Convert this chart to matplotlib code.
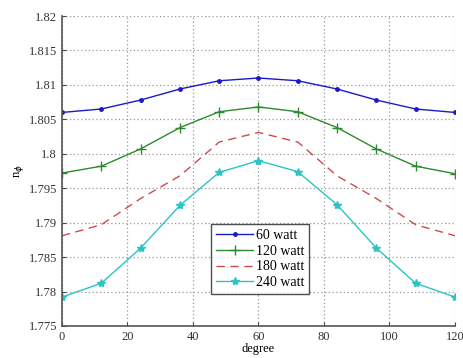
import numpy as np
import matplotlib.pyplot as plt
from matplotlib.ticker import FuncFormatter

# angle samples (degree)
degree = [0, 12, 24, 36, 48, 60, 72, 84, 96, 108, 120]

# refractive index per input power
n_60w = [1.8060, 1.8065, 1.8078, 1.8094, 1.8106, 1.8110, 1.8106, 1.8094, 1.8078, 1.8065, 1.8060]
n_120w = [1.7972, 1.7982, 1.8007, 1.8038, 1.8061, 1.8068, 1.8061, 1.8038, 1.8007, 1.7982, 1.7971]
n_180w = [1.7881, 1.7897, 1.7935, 1.7968, 1.8017, 1.8031, 1.8017, 1.7968, 1.7935, 1.7897, 1.7881]
n_240w = [1.7792, 1.7812, 1.7863, 1.7925, 1.7973, 1.7990, 1.7974, 1.7926, 1.7863, 1.7812, 1.7792]

labels = ['60 watt', '120 watt', '180 watt', '240 watt']
x_ticks = [0, 20, 40, 60, 80, 100, 120]
y_ticks = [1.775, 1.78, 1.785, 1.79, 1.795, 1.8, 1.805, 1.81, 1.815, 1.82]

plt.rcParams['font.family'] = ['Liberation Serif', 'DejaVu Serif']

fig = plt.figure(figsize=(4.64, 3.58), dpi=100)
ax = fig.add_axes([0.1336, 0.0894, 0.847, 0.8659])

ax.plot(degree, n_60w, color='#1a1ac8', marker='.', markersize=5, lw=1.0, label=labels[0])
ax.plot(degree, n_120w, color='#2e8a2e', marker='+', markersize=7, mew=1.0, lw=1.0, label=labels[1])
ax.plot(degree, n_180w, color='#cc4c4c', ls=(0, (6, 4)), lw=1.0, label=labels[2])
ax.plot(degree, n_240w, color='#2cc4c4', marker='*', markersize=6, lw=1.0, label=labels[3])

ax.set_xlim(0, 120)
ax.set_ylim(1.775, 1.82)
ax.set_xticks(x_ticks)
ax.set_yticks(y_ticks)
ax.yaxis.set_major_formatter(FuncFormatter(lambda v, p: f'{v:g}'))
ax.tick_params(direction='in', labelsize=9, length=3, colors='#444444', labelcolor='#333333')

for side in ['top', 'right']:
    ax.spines[side].set_visible(False)
for side in ['left', 'bottom']:
    ax.spines[side].set_color('#555555')
    ax.spines[side].set_linewidth(1.2)

ax.grid(True, ls=(0, (1, 2)), color='#999999', lw=0.9)

ax.set_xlabel('degree', fontsize=9, labelpad=0)
ax.set_ylabel(r'n$_\phi$', fontsize=9, labelpad=2)

leg = ax.legend(loc='lower left', bbox_to_anchor=(0.379, 0.103), fontsize=10,
                frameon=True, fancybox=False, edgecolor='#222222',
                handlelength=2.7, labelspacing=0.2, borderpad=0.35,
                handletextpad=0.2, borderaxespad=0)
leg.get_frame().set_linewidth(1.0)

fig.savefig('out.png', dpi=100, facecolor='white')
